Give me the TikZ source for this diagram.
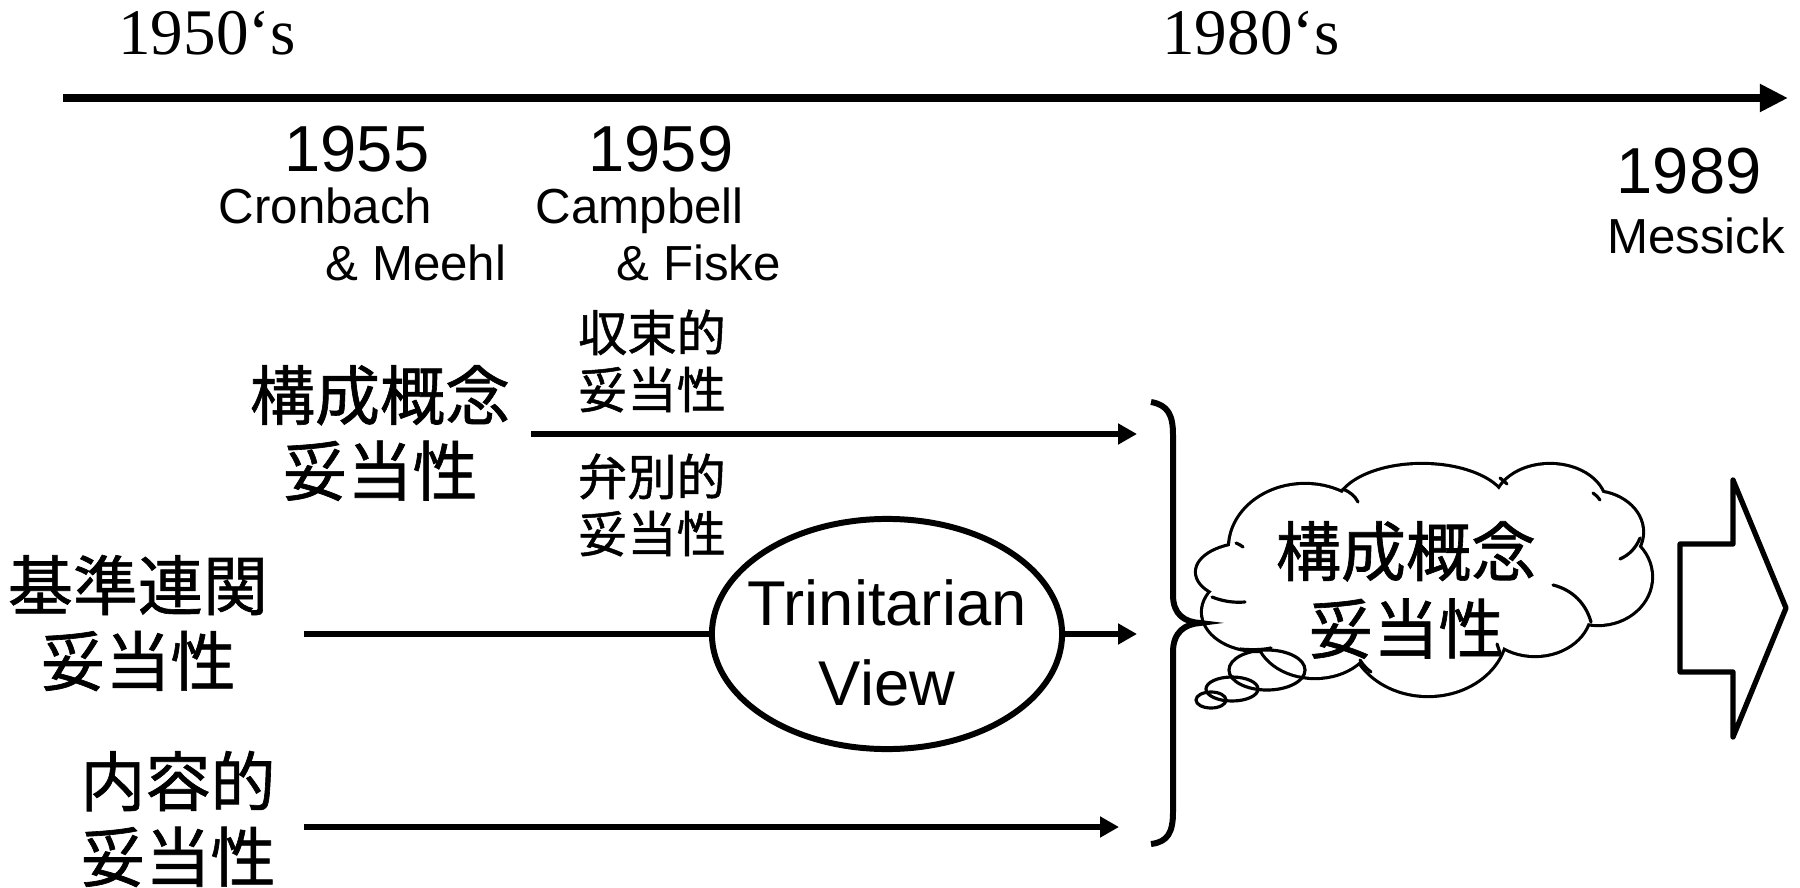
\documentclass[tikz,border=0pt]{standalone}
\usepackage{fontspec}
\setmainfont{Liberation Sans}
\newfontfamily\serifF{Liberation Serif}
\newfontfamily\jpF[FakeBold=1]{Noto Sans CJK JP}
\usetikzlibrary{arrows.meta,shapes.symbols,shapes.geometric}
\begin{document}
\begin{tikzpicture}[x=0.01cm,y=-0.01cm,
  lbl/.style={inner sep=0pt, font=\fontsize{14}{16.5}\selectfont},
  yr/.style={inner sep=0pt, font=\fontsize{18.5}{20}\selectfont},
  dec/.style={inner sep=0pt, font=\serifF\fontsize{18.5}{20}\selectfont},
  jpbig/.style={inner sep=0pt, align=center, font=\jpF\fontsize{18.5}{21.5}\selectfont},
  jpsmall/.style={inner sep=0pt, align=center, font=\jpF\fontsize{14}{16.2}\selectfont},
  conn/.style={line width=1.9pt, -{Triangle[length=5.4pt,width=5.7pt]}},
  plain/.style={line width=1.9pt},
  thin1/.style={line width=0.9pt, line cap=round},
  blockarrow/.style={line width=1.5pt, line join=round},
  ]
\useasboundingbox (0,0) rectangle (1800,888);

% timeline
\coordinate (tl0) at (63,98);
\coordinate (tl1) at (1788,98);
\draw[line width=2.1pt,-{Triangle[length=8pt,width=7.5pt]}] (tl0) -- (tl1);

\node[dec, anchor=base] (d50) at (207,55) {1950‘s};
\node[dec, anchor=base] (d80) at (1251,55) {1980‘s};
\node[yr, anchor=base] (y55) at (357,172) {1955};
\node[yr, anchor=base] (y59) at (661,172) {1959};
\node[yr, anchor=base] (y89) at (1689,193) {1989};
\node[lbl, anchor=base west] (cr) at (218,223) {Cronbach};
\node[lbl, anchor=base west] (me) at (325,281) {\& Meehl};
\node[lbl, anchor=base west] (ca) at (535,223) {Campbell};
\node[lbl, anchor=base west] (fi) at (616,281) {\& Fiske};
\node[lbl, anchor=base] (mes) at (1696,253) {Messick};

% Japanese labels
\node[jpbig] (cv) at (380,433) {構成概念\\妥当性};
\node[jpsmall] (conv) at (652,361) {収束的\\妥当性};
\node[jpsmall] (disc) at (652,505) {弁別的\\妥当性};
\node[jpbig] (crit) at (138,623) {基準連関\\妥当性};
\node[jpbig] (cont) at (178,819) {内容的\\妥当性};

% arrows
\coordinate (a1s) at (531,434);
\coordinate (a1e) at (1137,434);
\draw[conn] (a1s) -- (a1e);

\node[ellipse, draw, line width=1.7pt, minimum width=3.5cm, minimum height=2.3cm,
  inner sep=0pt] (tv) at (887,634) {};
\node[inner sep=0pt, align=center, font=\fontsize{18}{22.8}\selectfont] (tvt) at (887,643) {Trinitarian\\View};
\coordinate (a2s) at (304,634);
\coordinate (a2e) at (1137,634);
\draw[plain] (a2s) -- (tv.west);
\draw[conn] (tv.east) -- (a2e);

\coordinate (a3s) at (304,827);
\coordinate (a3e) at (1119,827);
\draw[conn] (a3s) -- (a3e);

% cloud (union of puffs: draw, then fill white)
\def\puffs{1305/548/75/63, 1422/508/85/43, 1550/505/55/40, 1592/532/50/40,
  1598/577/53/47, 1535/610/55/45, 1428/630/78/65, 1315/633/58/44,
  1258/612/55/38, 1250/572/53/28, 1425/575/175/75}
\foreach \px/\py/\rx/\ry in \puffs
  \draw[line width=1.8pt] (\px,\py) ellipse [x radius={\rx*0.01cm}, y radius={\ry*0.01cm}];
\foreach \px/\py/\rx/\ry in \puffs
  \fill[white] (\px,\py) ellipse [x radius={\rx*0.01cm}, y radius={\ry*0.01cm}];
% inner strokes of the cloud
\draw[thin1] (1343,489) .. controls (1350,492) and (1355,496) .. (1358,502);
\draw[thin1] (1236,543) .. controls (1238,544) and (1241,545) .. (1243,547);
\draw[thin1] (1212,597) .. controls (1222,601) and (1233,603) .. (1245,602);
\draw[thin1] (1240,649) .. controls (1250,650) and (1262,650) .. (1271,648);
\draw[thin1] (1360,660) .. controls (1363,665) and (1367,669) .. (1371,672);
\draw[thin1] (1497,644) .. controls (1498,647) and (1499,650) .. (1500,653);
\draw[thin1] (1553,585) .. controls (1573,590) and (1586,604) .. (1591,622);
\draw[thin1] (1640,538) .. controls (1636,548) and (1629,555) .. (1620,559);
\draw[thin1] (1593,493) .. controls (1596,495) and (1598,497) .. (1600,500);
\draw[thin1] (1500,478) .. controls (1503,480) and (1505,482) .. (1507,484);
\node[jpbig, font=\jpF\fontsize{18.5}{22}\selectfont] (clt) at (1406,590) {構成概念\\妥当性};
\draw[thin1] (1267,670) ellipse [x radius=0.38cm, y radius=0.20cm];
\draw[thin1] (1232,689) ellipse [x radius=0.26cm, y radius=0.12cm];
\draw[thin1] (1211,700) ellipse [x radius=0.15cm, y radius=0.08cm];

% brace
\coordinate (brtop) at (1151,402);
\coordinate (brtip) at (1200,623);
\coordinate (brbot) at (1151,844);
\draw[line width=1.7pt] (brtop) .. controls (1168,405) and (1173,415) .. (1173,435) -- (1173,595)
  .. controls (1173,615) and (1185,622) .. (brtip)
  .. controls (1185,624) and (1173,632) .. (1173,652) -- (1173,812)
  .. controls (1173,832) and (1168,842) .. (brbot);

% block arrow
\draw[blockarrow] (1680,544) -- (1733,544) -- (1733,480) -- (1786,608) -- (1733,737) -- (1733,672) -- (1680,672) -- cycle;
\end{tikzpicture}
\end{document}
